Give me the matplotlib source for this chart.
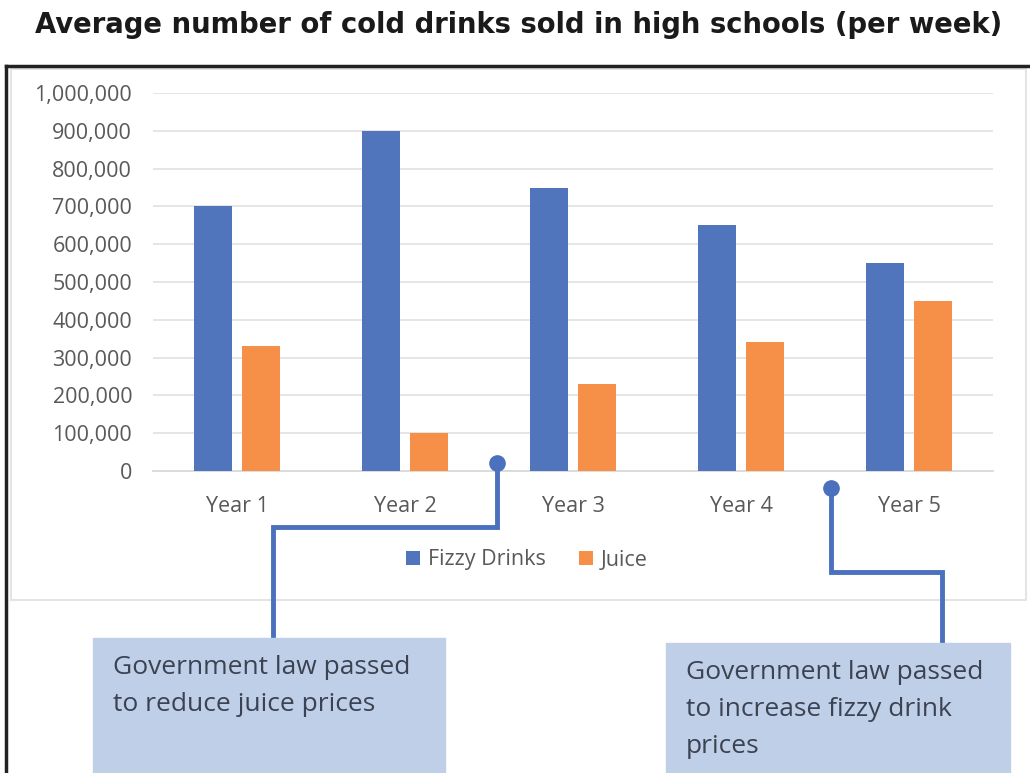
import matplotlib.pyplot as plt
import numpy as np
from matplotlib.patches import Rectangle

plt.rcParams["font.family"] = ["Open Sans", "DejaVu Sans"]

# data
years = ["Year 1", "Year 2", "Year 3", "Year 4", "Year 5"]
fizzy = [700000, 900000, 750000, 650000, 550000]
juice = [330000, 100000, 230000, 340000, 450000]
yticks = [0, 100000, 200000, 300000, 400000, 500000, 600000, 700000, 800000, 900000, 1000000]

W, H = 1030, 773
fig = plt.figure(figsize=(W / 100, H / 100), dpi=100)

# overlay in pixel coords for frames and callouts
ov = fig.add_axes([0, 0, 1, 1])
ov.set_xlim(0, W)
ov.set_ylim(H, 0)
ov.axis("off")

# outer black frame (top + left)
ov.plot([6, W + 5], [66, 66], color="#222222", lw=2.5)
ov.plot([6, 6], [66, H + 5], color="#222222", lw=2.5)
# inner light chart box
ov.add_patch(Rectangle((11, 69), 1015, 531, fill=False, ec="#E4E4E4", lw=1.5))

# title
fig.text(519 / W, 1 - 25 / H, "Average number of cold drinks sold in high schools (per week)",
         ha="center", va="center", fontsize=19.8, fontweight="bold", color="#1A1A1A",
         family="DejaVu Sans")

# main chart
ax = fig.add_axes([153 / W, 1 - 471 / H, 840 / W, 378 / H])
ax.set_zorder(2)
ax.patch.set_alpha(0)
x = np.arange(len(years))
width = 0.226
blue, orange = "#5075BD", "#F68F48"
ax.bar(x - 0.143, fizzy, width, color=blue, label="Fizzy Drinks", zorder=3)
ax.bar(x + 0.143, juice, width, color=orange, label="Juice", zorder=3)

ax.set_xlim(-0.5, 4.5)
ax.set_ylim(0, 1000000)
ax.set_yticks(yticks)
ax.set_yticklabels([f"{v:,}" for v in yticks])
ax.set_xticks(x)
ax.set_xticklabels(years)
ax.tick_params(length=0, labelsize=15.5, colors="#595959")
ax.tick_params(axis="y", pad=15)
ax.tick_params(axis="x", pad=18)
ax.grid(axis="y", color="#E3E3E3", lw=1.3, zorder=0)
for s in ["top", "right", "left"]:
    ax.spines[s].set_visible(False)
ax.spines["bottom"].set_color("#D9D9D9")
ax.spines["bottom"].set_linewidth(1.3)

leg = ax.legend(loc="center", bbox_to_anchor=(527 / W, 1 - 560 / H), bbox_transform=fig.transFigure,
                ncol=2, frameon=False, fontsize=15.5, handlelength=0.65, handleheight=0.65,
                handletextpad=0.4, columnspacing=1.5)
for t in leg.get_texts():
    t.set_color("#595959")

# callouts
line_c = "#4A70BE"
ov.set_zorder(3)
ov.plot([497, 497, 273, 273], [463, 527, 527, 638], color=line_c, lw=3.5, solid_joinstyle="miter")
ov.plot([497], [463], "o", color=line_c, ms=11)
ov.plot([831, 831, 942, 942], [488, 572, 572, 643], color=line_c, lw=3.5, solid_joinstyle="miter")
ov.plot([831], [488], "o", color=line_c, ms=11)

box_c = "#C0CFE8"
ov.add_patch(Rectangle((93, 638), 352, 140, color=box_c, zorder=4))
ov.add_patch(Rectangle((666, 643), 344, 135, color=box_c, zorder=4))
ov.text(113, 655, "Government law passed\nto reduce juice prices", ha="left", va="top",
        fontsize=19, color="#3B4252", linespacing=1.62, zorder=5)
ov.text(686, 660, "Government law passed\nto increase fizzy drink\nprices", ha="left", va="top",
        fontsize=19, color="#3B4252", linespacing=1.62, zorder=5)

fig.savefig("out.png", dpi=100)
